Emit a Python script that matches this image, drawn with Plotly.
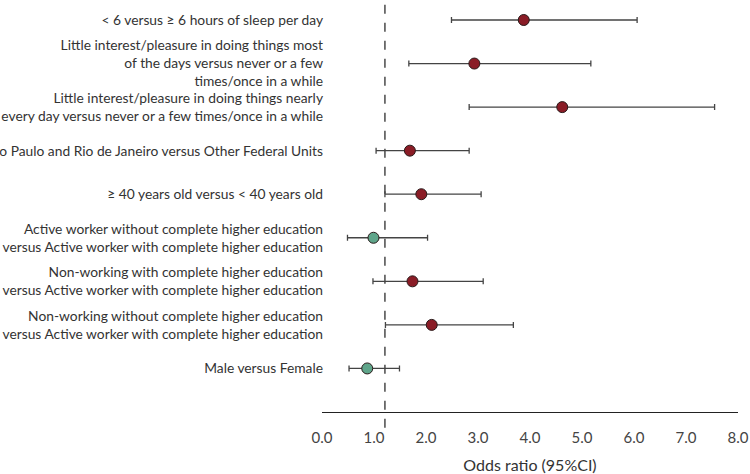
import plotly.graph_objects as go

labels = [
    "< 6 versus ≥ 6 hours of sleep per day",
    "Little interest/pleasure in doing things most<br>of the days versus never or a few<br>times/once in a while",
    "Little interest/pleasure in doing things nearly<br>every day versus never or a few times/once in a while",
    "São Paulo and Rio de Janeiro versus Other Federal Units",
    "≥ 40 years old versus < 40 years old",
    "Active worker without complete higher education<br>versus Active worker with complete higher education",
    "Non-working with complete higher education<br>versus Active worker with complete higher education",
    "Non-working without complete higher education<br>versus Active worker with complete higher education",
    "Male versus Female",
]
odds_ratio = [3.88, 2.93, 4.62, 1.69, 1.91, 0.99, 1.74, 2.11, 0.87]
ci_lower = [2.49, 1.67, 2.83, 1.04, 1.21, 0.49, 0.98, 1.22, 0.52]
ci_upper = [6.06, 5.17, 7.55, 2.83, 3.06, 2.03, 3.10, 3.68, 1.49]
significant = [True, True, True, True, True, False, True, True, False]
x_ticks = [0, 1, 2, 3, 4, 5, 6, 7, 8]
x_ticktext = ["0.0", "1.0", "2.0", "3.0", "4.0", "5.0", "6.0", "7.0", "8.0"]
ref_line = 1.21

FONT = "Lato, 'Open Sans', sans-serif"
RED = "#8a1c26"
GREEN = "#5fa58a"

rows = list(range(1, len(labels) + 1))
colors = [RED if s else GREEN for s in significant]

fig = go.Figure()
fig.add_trace(go.Scatter(
    x=odds_ratio,
    y=rows,
    mode="markers",
    marker=dict(size=11, color=colors, line=dict(color="#2a1a1a", width=1)),
    error_x=dict(
        type="data",
        symmetric=False,
        array=[u - o for u, o in zip(ci_upper, odds_ratio)],
        arrayminus=[o - l for o, l in zip(odds_ratio, ci_lower)],
        color="#444444",
        thickness=1.3,
        width=3,
    ),
    showlegend=False,
    hoverinfo="skip",
))

fig.add_shape(
    type="line", xref="x", yref="paper",
    x0=ref_line, x1=ref_line, y0=-0.038, y1=1,
    line=dict(color="#555555", width=1.6, dash="dash"),
    layer="below",
)

fig.update_layout(
    width=750, height=474,
    margin=dict(l=322, r=12, t=0, b=62),
    plot_bgcolor="white", paper_bgcolor="white",
    font=dict(family=FONT, size=13.8, color="#333333"),
)
fig.update_xaxes(
    range=[0, 8],
    tickmode="array", tickvals=x_ticks, ticktext=x_ticktext,
    showgrid=False, zeroline=False,
    showline=True, linecolor="#222222", linewidth=1.3,
    ticks="outside", ticklen=12, tickcolor="rgba(0,0,0,0)",
    tickfont=dict(size=15, color="#444444"),
    title=dict(text="Odds ratio (95%CI)", font=dict(size=16, color="#333333"), standoff=16),
    automargin=False,
)
fig.update_yaxes(
    range=[10, 0.541],
    tickmode="array", tickvals=rows, ticktext=labels,
    showgrid=False, zeroline=False, showline=False,
    ticks="", automargin=False, ticklabelstandoff=-2,
    tickfont=dict(size=13.8, color="#333333"),
)
fig.write_html(
    "out.html",
    config={"displayModeBar": False},
    post_script="document.body.style.margin='0';document.body.style.overflow='hidden';",
)
